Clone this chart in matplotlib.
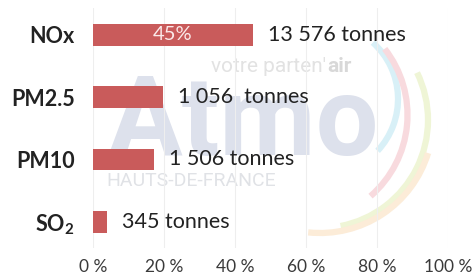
import matplotlib
matplotlib.use("Agg")
import matplotlib.pyplot as plt
from matplotlib.patches import Arc

# Données : part des émissions (%) et tonnages
polluants = ["NOx", "PM2.5", "PM10", r"$\mathbf{SO_2}$"]
parts = [45, 19.7, 17.2, 3.9]
tonnages = ["13 576 tonnes", "1 056  tonnes", "1 506 tonnes", "345 tonnes"]
etiquette_barre = ["45%", "", "", ""]
graduations = [0, 20, 40, 60, 80, 100]

plt.rcParams['font.family'] = ['Lato', 'DejaVu Sans']
plt.rcParams['mathtext.fontset'] = 'custom'
plt.rcParams['mathtext.bf'] = 'Lato:bold'
plt.rcParams['mathtext.rm'] = 'Lato'

W, H = 475, 274
fig = plt.figure(figsize=(W / 100, H / 100), dpi=100)

#%% filigrane (logo Atmo en fond)
fond = fig.add_axes([0, 0, 1, 1], zorder=0)
fond.set_xlim(0, W)
fond.set_ylim(0, H)
fond.axis('off')

fond.text(108, H - 155, "Atmo", fontsize=80, fontweight='bold',
          color='#dde1ec', ha='left', va='baseline', family='Roboto')
fond.text(326, H - 67, "votre parten'", fontsize=15, color='#e2e2e2',
          ha='right', va='center', family='Roboto')
fond.text(327, H - 67, "air", fontsize=15, color='#d8d8d8',
          ha='left', va='center', family='Roboto', fontweight='bold')
fond.text(106, H - 181, "HAUTS-DE-FRANCE", fontsize=14, color='#e0e2e6',
          ha='left', va='center', family='Roboto')

arcs = [
    ((322, H - 99), 152, -43, 48, '#d8f0f7'),
    ((300, H - 115), 215, -49, 38, '#f8dade'),
    ((320, H - 120), 216, -79, 26, '#eff5d6'),
    ((320, H - 120), 226, -96, -17, '#fcecd8'),
]
for centre, d, t1, t2, c in arcs:
    fond.add_patch(Arc(centre, d, d, theta1=t1, theta2=t2, color=c, lw=4.5))

#%% graphique principal
ax = fig.add_axes([93 / W, 1 - 248 / H, 355 / W, 240 / H], zorder=1)
ax.patch.set_alpha(0)

pos = range(len(polluants))
barres = ax.barh(pos, parts, height=0.35, color='#c95b5b', zorder=2)

for i, (p, t, e) in enumerate(zip(parts, tonnages, etiquette_barre)):
    ax.annotate(t, (p, i), xytext=(11, 0), textcoords='offset points',
                ha='left', va='center', fontsize=15.5, color='#222222')
    if e:
        ax.text(p / 2, i, e, ha='center', va='center', fontsize=14.5,
                color='#fbeaea')

ax.set_xlim(0, 100)
ax.set_ylim(3.42, -0.43)
ax.set_xticks(graduations)
ax.set_xticklabels([f"{g} %" for g in graduations], fontsize=12.5,
                   color='#3a3a3a')
ax.set_yticks(list(pos))
ax.set_yticklabels(polluants, fontsize=15.5, fontweight='bold', color='#222222')
ax.tick_params(axis='y', length=0, pad=13)
ax.tick_params(axis='x', length=0, pad=8)
ax.grid(axis='x', color='#eeeeee', lw=0.8, zorder=0)
for s in ax.spines.values():
    s.set_visible(False)

fig.savefig("out.png", dpi=100)
